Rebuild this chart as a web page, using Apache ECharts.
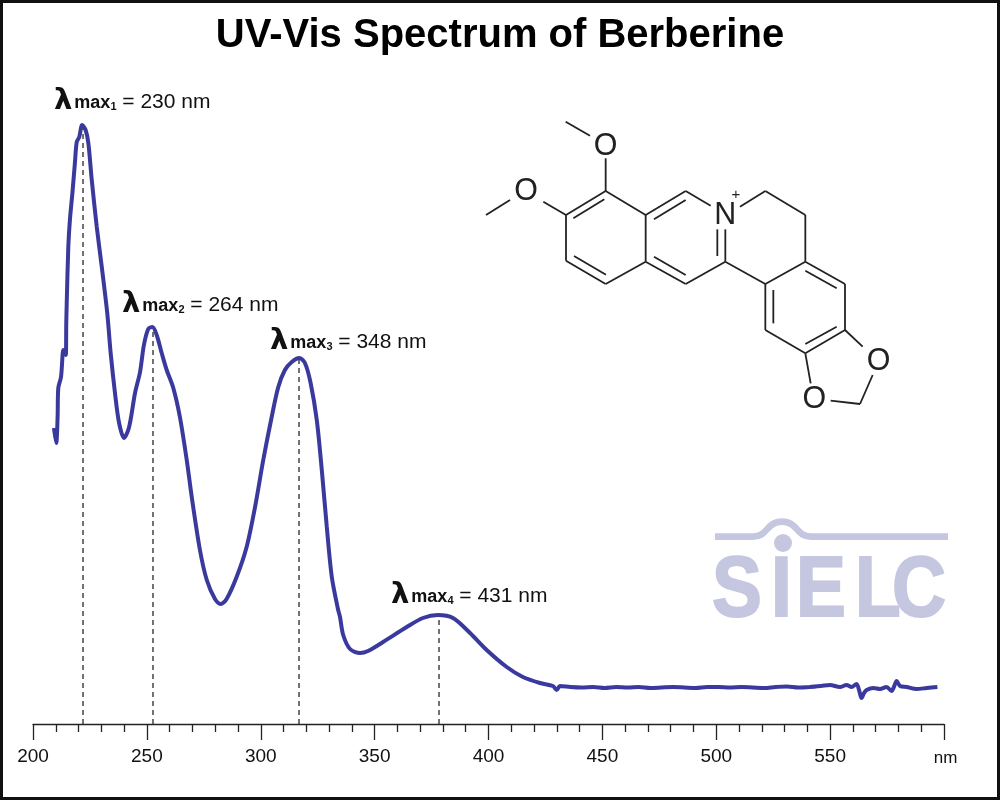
<!DOCTYPE html>
<html>
<head>
<meta charset="utf-8">
<title>UV-Vis Spectrum of Berberine</title>
<script src="https://cdn.jsdelivr.net/npm/echarts@6/dist/echarts.min.js"></script>
<style>
  html, body { margin: 0; padding: 0; background: #fff; }
  #main { width: 1000px; height: 800px; }
</style>
</head>
<body>
<div id="main"></div>
<script>
// wavelength (nm)
var wavelengths = [
  209.2, 210.2, 210.8, 211.1, 212.3, 213.3, 213.6, 214.4, 214.6, 214.8, 215.5, 216.2, 217.3, 218.4, 219.2, 220.3,
  221.6, 223.1, 224.3, 225.8, 228.0, 230.2, 232.6, 234.1, 236.0, 237.8, 240.0, 242.2, 244.8, 247.0, 248.7, 250.6,
  252.4, 254.3, 256.5, 258.7, 261.6, 264.5, 267.5, 269.7, 273.3, 276.3, 279.9, 282.4, 285.0, 289.4, 293.8, 297.5,
  301.1, 304.8, 307.7, 310.6, 313.6, 316.9, 319.4, 321.9, 324.6, 326.8, 329.0, 331.2, 333.9, 334.8, 336.2, 339.2,
  343.6, 347.1, 353.7, 364.1, 371.2, 377.8, 384.4, 391.9, 399.2, 408.0, 415.1, 422.6, 428.3, 429.9, 431.4, 436,
  441, 446, 451, 456, 461, 466, 471, 476, 481, 486, 491, 496, 501, 506, 511, 516,
  521, 526, 531, 536, 541, 546, 549.9, 554.3, 557.2, 559.4, 561.6, 562.8, 563.8, 564.9, 566, 569,
  571.9, 574.8, 577, 578, 579.2, 580.7, 583.6, 588, 592.4, 597.1
];
// absorbance, arbitrary units (axis has no scale in the original)
var absorbance = [
  296, 281, 307, 336, 347, 374, 374, 369, 400, 420, 477, 504, 531, 561, 582, 587,
  599, 594, 581, 544, 497, 457, 411, 371, 331, 301, 286, 297, 331, 352, 379, 395,
  397, 389, 371, 354, 336, 307, 264, 227, 174, 144, 125, 120, 125, 147, 177, 217,
  264, 307, 337, 354, 362, 366, 361, 341, 304, 254, 197, 147, 115, 107, 89, 75,
  71, 73, 82, 97, 106, 109, 106, 91, 74, 57, 47, 41, 38, 34, 38, 37,
  36.5, 37, 36, 37, 36.5, 37, 36, 36.5, 37, 36.5, 36, 37, 37, 36.5, 37, 36.5,
  36, 37, 37.5, 36.5, 37, 38, 39, 37, 39, 37, 40, 33, 26, 31, 34, 36,
  35, 37, 33, 37, 43, 38, 37, 35, 36, 37
];
var peakNm = [221.7, 252.7, 316.8, 378.3];
var peakAbs = [597, 395, 364, 108];
var peakLabels = ['230', '264', '348', '431'];
var peakLabelPos = [[54, 101], [122, 304], [270, 341], [391, 595]];

// berberine skeleton, [x1, y1, x2, y2] relative to molecule box at 3x
var bonds = [
  [287,35,360,77], [407,145,407,243], [120,270,48,315], [220,275,288,315],
  [407,243,288,315], [403,268,310,325], [288,315,288,452], [288,452,407,522], [312,438,408,494],
  [407,522,527,455], [527,455,527,315], [527,315,407,243],
  [527,315,647,243], [552,328,647,270], [647,243,722,287],
  [527,455,647,522], [552,440,647,495], [647,522,766,455], [766,358,766,455], [742,358,742,438],
  [810,290,886,243], [886,243,1006,315], [1006,315,1006,455],
  [766,455,886,522], [886,522,1006,455], [1006,455,1125,522], [1006,482,1100,535],
  [1125,522,1125,660], [1125,660,1006,730], [1100,650,1006,702], [1006,730,886,660],
  [886,660,886,522], [910,640,910,540],
  [1125,660,1178,710], [1208,795,1170,882], [1170,882,1082,872], [1022,820,1006,730]
];
var atoms = [['O',407,108], ['O',168,245], ['N',766,315], ['O',1226,755], ['O',1033,868]];

var logoLetters = ['S', 'I', 'E', 'L', 'C'];
var logoX = [712, 771, 796, 855, 892];

var chart = echarts.init(document.getElementById('main'));

var graphics = [];

// outer frame
graphics.push({
  type: 'rect', z: 20, silent: true,
  shape: { x: 1.5, y: 1.5, width: 997, height: 797 },
  style: { fill: 'none', stroke: '#111', lineWidth: 3 }
});

// peak captions
peakLabels.forEach(function (val, i) {
  graphics.push({
    type: 'text', x: peakLabelPos[i][0], y: peakLabelPos[i][1], z: 10,
    style: {
      text: '{l|λ}{m|max}{s|' + (i + 1) + '}{r| = ' + val + ' nm}',
      verticalAlign: 'middle',
      rich: {
        l: { fontFamily: 'DejaVu Sans', fontSize: 29, fill: '#111', fontWeight: 'bold', padding: [0, 2, 0, 0] },
        m: { fontFamily: 'Liberation Sans', fontSize: 18, fontWeight: 'bold', fill: '#111', padding: [4, 0, 0, 0] },
        s: { fontFamily: 'Liberation Sans', fontSize: 11, fontWeight: 'bold', fill: '#111', padding: [12, 0, 0, 0] },
        r: { fontFamily: 'Liberation Sans', fontSize: 21, fill: '#111', padding: [2, 0, 0, 0] }
      }
    }
  });
});

// structure
bonds.forEach(function (b) {
  graphics.push({
    type: 'line', silent: true,
    shape: { x1: 470 + b[0] / 3, y1: 110 + b[1] / 3, x2: 470 + b[2] / 3, y2: 110 + b[3] / 3 },
    style: { stroke: '#222', lineWidth: 1.8 }
  });
});
atoms.forEach(function (a) {
  graphics.push({
    type: 'text', x: 470 + a[1] / 3, y: 110 + a[2] / 3, scaleX: 0.95,
    style: { text: a[0], fontFamily: 'Liberation Sans', fontSize: 32, fill: '#222', align: 'center', verticalAlign: 'middle' }
  });
});
graphics.push({
  type: 'text', x: 736, y: 195,
  style: { text: '+', fontFamily: 'Liberation Sans', fontSize: 15, fill: '#222', align: 'center', verticalAlign: 'middle' }
});

// SIELC watermark
var logoStroke = { fill: 'none', stroke: '#c5c6e0', lineWidth: 6.7, lineCap: 'butt' };
graphics.push({ type: 'line', silent: true, shape: { x1: 715, y1: 536.7, x2: 753, y2: 536.7 }, style: logoStroke });
graphics.push({ type: 'bezierCurve', silent: true, shape: { x1: 753, y1: 536.7, cpx1: 768, cpy1: 536.7, cpx2: 766, cpy2: 521.7, x2: 782, y2: 521.7 }, style: logoStroke });
graphics.push({ type: 'bezierCurve', silent: true, shape: { x1: 782, y1: 521.7, cpx1: 798, cpy1: 521.7, cpx2: 796, cpy2: 536.7, x2: 811, y2: 536.7 }, style: logoStroke });
graphics.push({ type: 'line', silent: true, shape: { x1: 811, y1: 536.7, x2: 948, y2: 536.7 }, style: logoStroke });
graphics.push({
  type: 'circle', silent: true,
  shape: { cx: 783, cy: 543, r: 9 },
  style: { fill: '#c5c6e0' }
});
logoLetters.forEach(function (ch, i) {
  graphics.push({
    type: 'text', x: logoX[i], y: 593, scaleX: 0.88,
    style: {
      text: ch, fontFamily: 'Liberation Sans', fontWeight: 'bold', fontSize: 85, fill: '#c5c6e0',
      stroke: '#c5c6e0', lineWidth: 2, verticalAlign: 'middle'
    }
  });
});

// unit at the end of the axis
graphics.push({
  type: 'text', x: 945.5, y: 758,
  style: { text: 'nm', fontFamily: 'Liberation Sans', fontSize: 17, fill: '#111', align: 'center', verticalAlign: 'middle' }
});

var dropLines = peakNm.map(function (nm, i) {
  return [{ coord: [nm, 0] }, { coord: [nm, peakAbs[i]] }];
});

var option = {
  animation: false,
  backgroundColor: '#fff',
  title: {
    text: 'UV-Vis Spectrum of Berberine',
    left: 'center',
    top: 11,
    textStyle: { fontFamily: 'Liberation Sans', fontSize: 40, fontWeight: 'bold', color: '#000' }
  },
  grid: { left: 33, right: 56, top: 74, bottom: 76 },
  xAxis: {
    type: 'value',
    min: 200,
    max: 600,
    interval: 50,
    splitLine: { show: false },
    axisLine: { lineStyle: { color: '#222', width: 1.3 } },
    axisTick: { length: 16, lineStyle: { color: '#222', width: 1.3 } },
    minorTick: { show: true, splitNumber: 5, length: 8, lineStyle: { color: '#222', width: 1.3 } },
    axisLabel: {
      margin: 23,
      fontFamily: 'Liberation Sans',
      fontSize: 19,
      color: '#111',
      showMaxLabel: false
    }
  },
  yAxis: {
    type: 'value',
    min: 0,
    max: 650,
    show: false
  },
  series: [
    {
      type: 'line',
      data: wavelengths.map(function (w, i) { return [w, absorbance[i]]; }),
      showSymbol: false,
      smooth: 0.3,
      lineStyle: { color: '#3a3a9e', width: 4 },
      markLine: {
        silent: true,
        symbol: 'none',
        label: { show: false },
        lineStyle: { color: '#444', type: [5, 4], width: 1.5 },
        data: dropLines
      },
      z: 3
    }
  ],
  graphic: graphics
};

chart.setOption(option);
</script>
</body>
</html>
